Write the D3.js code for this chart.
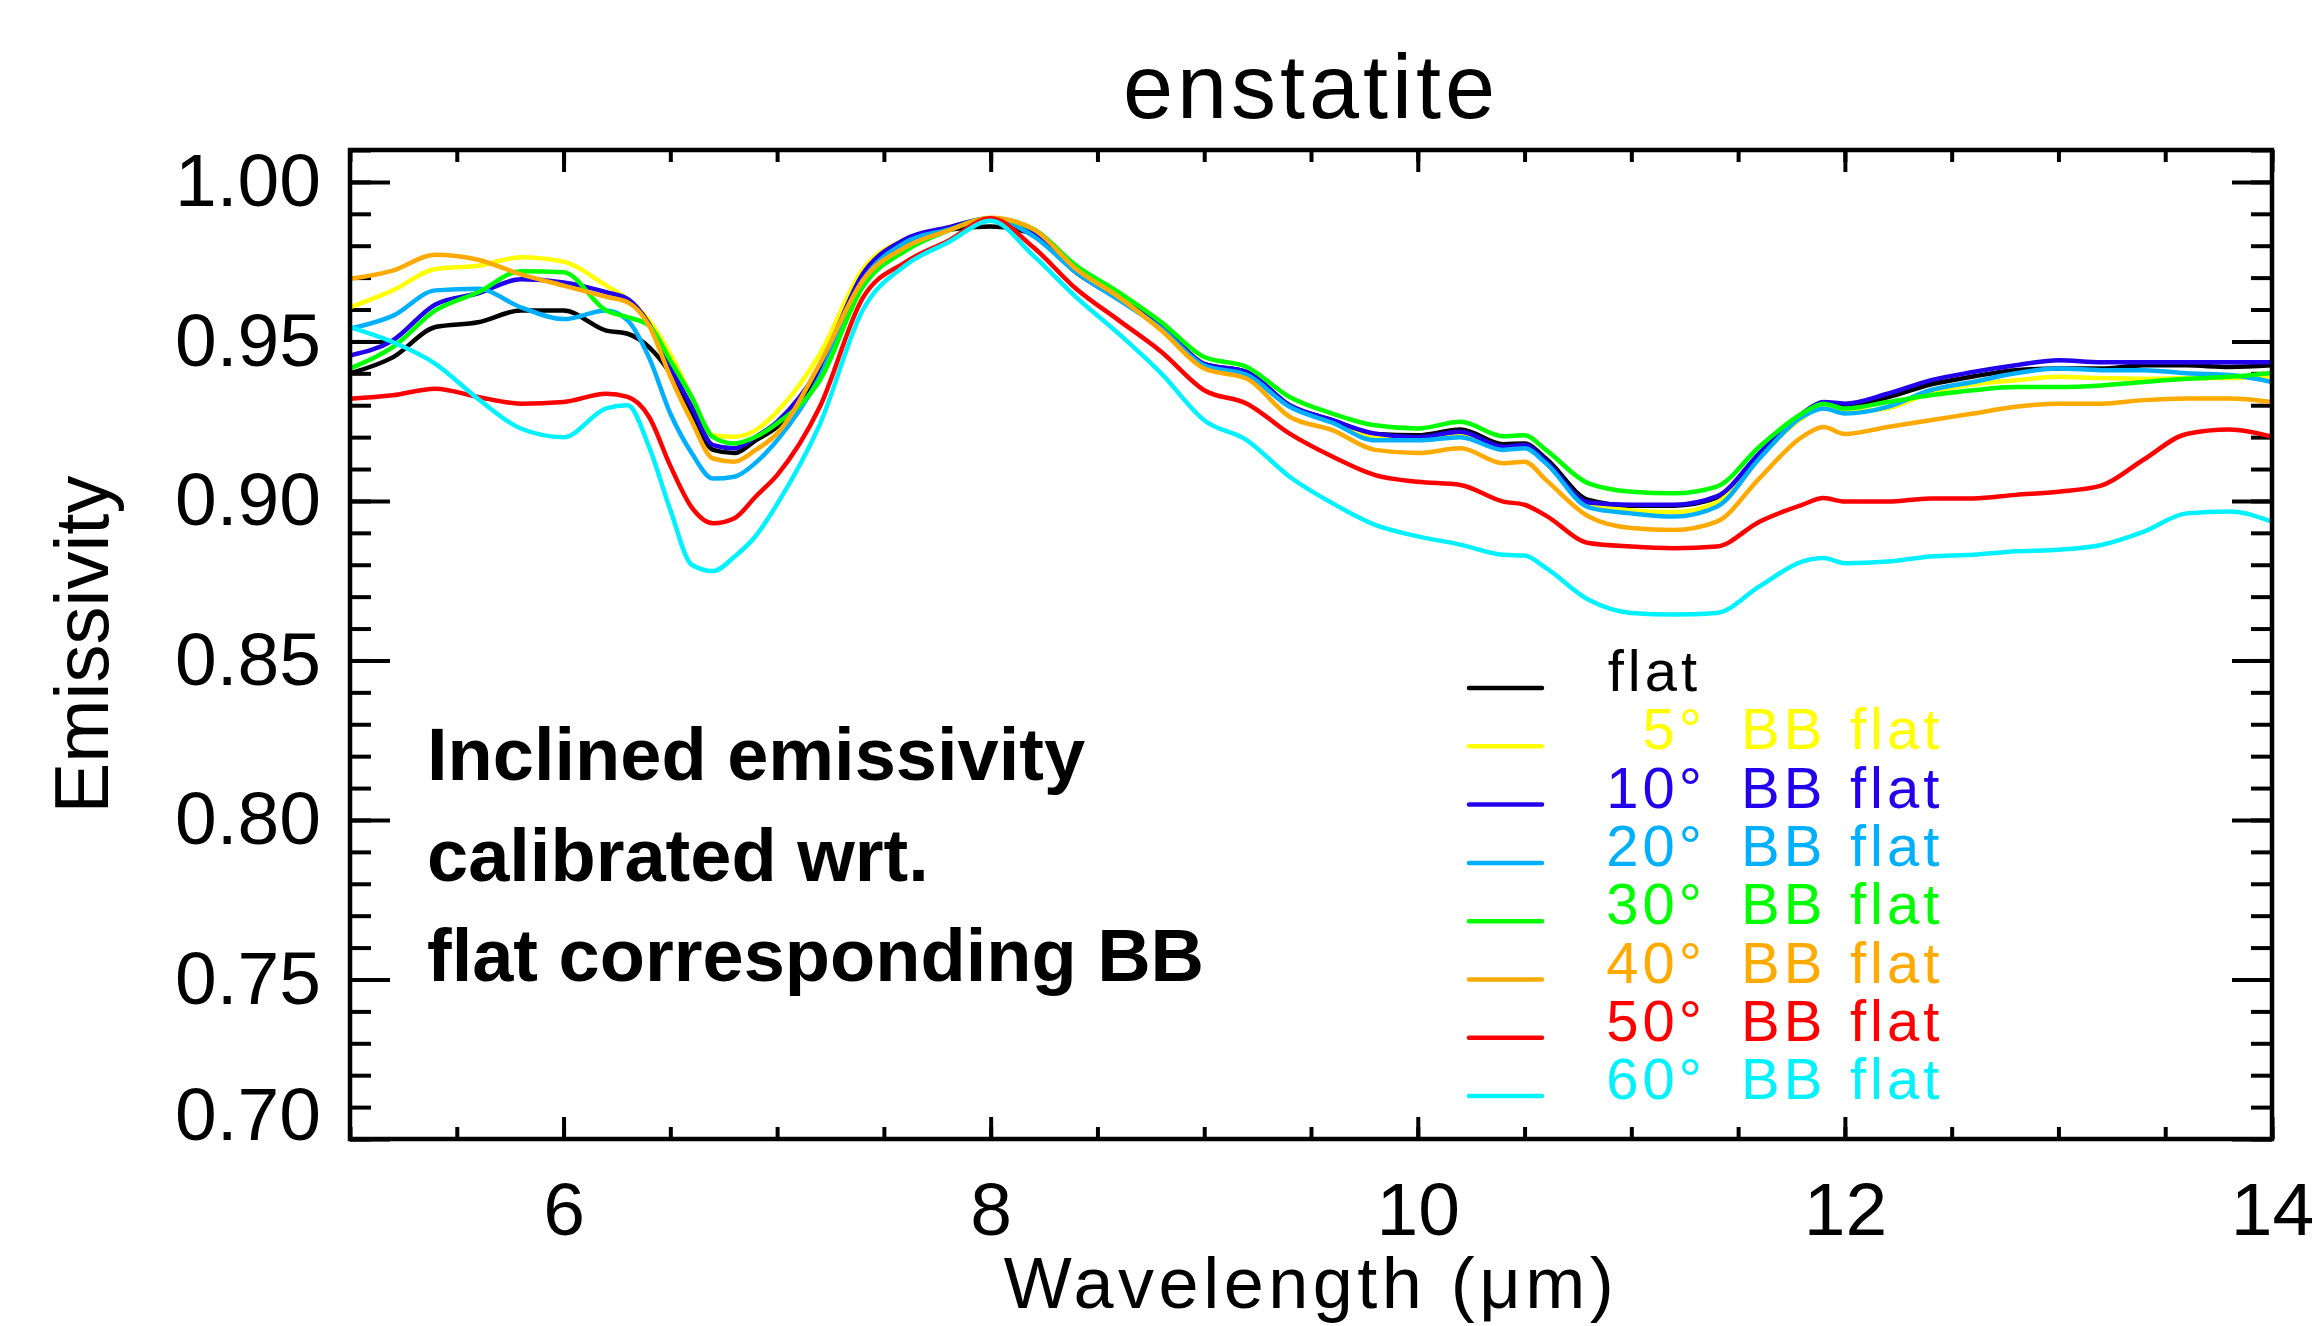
<!DOCTYPE html>
<html><head><meta charset="utf-8">
<script src="https://cdn.jsdelivr.net/npm/d3@7"></script>
<style>
html,body{margin:0;padding:0;background:#fff;}
svg{display:block;}
</style></head><body>
<svg id="chart" width="2313" height="1326"></svg>
<script>
// ---------- data ----------
const wavelength = [5.0, 5.2, 5.4, 5.6, 5.8, 6.0, 6.2, 6.3, 6.4, 6.5, 6.6, 6.7, 6.8, 6.9, 7.0, 7.2, 7.4, 7.6, 7.8, 8.0,
  8.2, 8.4, 8.6, 8.8, 9.0, 9.2, 9.4, 9.6, 9.8, 10.0, 10.2, 10.4, 10.5, 10.6, 10.8, 11.0, 11.2, 11.4, 11.6, 11.8,
  11.9, 12.0, 12.2, 12.4, 12.6, 12.8, 13.0, 13.2, 13.4, 13.6, 13.8, 14.0];

const flat = [0.940, 0.945, 0.9545, 0.956, 0.9597, 0.9597,
  0.9534, 0.9524, 0.9482, 0.940, 0.928, 0.916, 0.915, 0.919, 0.9232,
  0.941, 0.968, 0.981, 0.985, 0.986,
  0.9836, 0.9717, 0.9634, 0.955, 0.943,
  0.9404, 0.930, 0.9253, 0.921, 0.9206,
  0.9224, 0.9178, 0.918, 0.9133, 0.9003,
  0.8985, 0.8985, 0.901, 0.9145, 0.927,
  0.9305, 0.930, 0.9325, 0.9365, 0.939,
  0.941, 0.9415, 0.9415, 0.9425, 0.9425,
  0.942, 0.9425];

const bb5 = [0.9607, 0.966, 0.9727, 0.9737, 0.9764, 0.9750,
  0.9675, 0.9633, 0.9566, 0.946, 0.9326, 0.9206, 0.9201, 0.9222, 0.9280,
  0.946, 0.9725, 0.982, 0.9857, 0.9886,
  0.984, 0.972, 0.9637, 0.955, 0.943,
  0.940, 0.930, 0.925, 0.920, 0.9195,
  0.921, 0.9165, 0.917, 0.912, 0.899,
  0.897, 0.8965, 0.8995, 0.914, 0.926,
  0.9295, 0.928, 0.929, 0.934, 0.9365,
  0.9378, 0.9389, 0.9385, 0.9383, 0.9385,
  0.9385, 0.939];

const bb10 = [0.9456, 0.9503, 0.9616, 0.9651, 0.9695, 0.9685,
  0.9654, 0.9633, 0.9555, 0.942, 0.9295, 0.9175, 0.9165, 0.9201, 0.9248,
  0.942, 0.971, 0.982, 0.9857, 0.9886,
  0.984, 0.9717, 0.9634, 0.955, 0.943,
  0.9404, 0.930, 0.9253, 0.9211, 0.920,
  0.9217, 0.917, 0.9175, 0.9125, 0.8995,
  0.8988, 0.8988, 0.9014, 0.9149, 0.9274,
  0.931, 0.9305, 0.9336, 0.9378, 0.9404,
  0.9425, 0.9441, 0.9435, 0.9435, 0.9435,
  0.9435, 0.9435];

const bb20 = [0.954, 0.958, 0.966, 0.9665, 0.9607, 0.957,
  0.9597, 0.9566, 0.945, 0.9274, 0.915, 0.907, 0.9076, 0.912, 0.919,
  0.939, 0.969, 0.981, 0.985, 0.9886,
  0.983, 0.9717, 0.963, 0.954, 0.9425,
  0.9395, 0.9295, 0.9245, 0.919, 0.919,
  0.920, 0.916, 0.9165, 0.9118, 0.898,
  0.8961, 0.8951, 0.8982, 0.9133, 0.9264,
  0.929, 0.9274, 0.9295, 0.9347, 0.9373,
  0.940, 0.9415, 0.941, 0.941, 0.940,
  0.9395, 0.9373];

const bb30 = [0.9415, 0.9482, 0.9597, 0.9654, 0.972, 0.9717,
  0.9597, 0.9576, 0.955, 0.944, 0.9326, 0.920, 0.918, 0.9201, 0.9243,
  0.9378, 0.967, 0.9784, 0.9847, 0.9886,
  0.9852, 0.9738, 0.9654, 0.956, 0.9451,
  0.942, 0.9326, 0.9274, 0.9237, 0.9227,
  0.9248, 0.9203, 0.9206, 0.916, 0.9055,
  0.9029, 0.9024, 0.9045, 0.917, 0.9274,
  0.9305, 0.929, 0.931, 0.9331, 0.9347,
  0.9357, 0.9357, 0.9362, 0.9373, 0.9383,
  0.9389, 0.9401];

const bb40 = [0.9696, 0.9722, 0.9772, 0.9756, 0.971, 0.9675,
  0.964, 0.9623, 0.955, 0.939, 0.925, 0.9133, 0.9123, 0.916, 0.9211,
  0.943, 0.969, 0.9795, 0.9847, 0.9888,
  0.9852, 0.9727, 0.9639, 0.9534, 0.9415,
  0.9383, 0.9264, 0.9222, 0.916, 0.915,
  0.9165, 0.9118, 0.9123, 0.9066, 0.8951,
  0.8915, 0.8909, 0.8935, 0.9071, 0.9201,
  0.9232, 0.921, 0.9232, 0.9253, 0.9274,
  0.9295, 0.9305, 0.9305, 0.9316, 0.9321,
  0.9321, 0.931];

const bb50 = [0.932, 0.9331, 0.9352, 0.9326, 0.9305, 0.931,
  0.9336, 0.9326, 0.9264, 0.911, 0.898, 0.893, 0.8946, 0.9014, 0.9081,
  0.9295, 0.9635, 0.9748, 0.9815, 0.9886,
  0.9795, 0.9665, 0.9566, 0.9467, 0.9347,
  0.9305, 0.9211, 0.9139, 0.9081, 0.906,
  0.905, 0.8998, 0.8988, 0.8954, 0.8868,
  0.8857, 0.8852, 0.8857, 0.8935, 0.8988,
  0.9009, 0.8998, 0.8998, 0.9008, 0.9008,
  0.9019, 0.9029, 0.9048, 0.913, 0.921,
  0.9224, 0.9201];

const bb60 = [0.9545, 0.9498, 0.943, 0.932, 0.9227, 0.920,
  0.929, 0.930, 0.917, 0.8972, 0.880, 0.878, 0.8825, 0.889, 0.899,
  0.924, 0.9597, 0.9738, 0.981, 0.9878,
  0.9769, 0.9639, 0.9524, 0.9399, 0.9253,
  0.919, 0.9076, 0.8993, 0.8925, 0.8889,
  0.8863, 0.8831, 0.8829, 0.879, 0.869,
  0.8649, 0.8644, 0.8649, 0.8732, 0.881,
  0.8821, 0.8805, 0.881, 0.8826, 0.8831,
  0.8842, 0.8847, 0.8862, 0.8904, 0.8961,
  0.8967, 0.8935];

const seriesNames = ["flat", "5° BB flat", "10° BB flat", "20° BB flat", "30° BB flat", "40° BB flat", "50° BB flat", "60° BB flat"];
const seriesValues = [flat, bb5, bb10, bb20, bb30, bb40, bb50, bb60];
const seriesColors = ["#000000", "#FFFF00", "#2200EE", "#00B0FF", "#00FF00", "#FFAA00", "#FF0000", "#00F2FF"];

const xTicks = [6, 8, 10, 12, 14];
const yTicks = [0.70, 0.75, 0.80, 0.85, 0.90, 0.95, 1.00];
const titleText = "enstatite";
const xTitle = "Wavelength (\u03BCm)";
const yTitle = "Emissivity";
const noteLines = ["Inclined emissivity", "calibrated wrt.", "flat corresponding BB"];

// ---------- layout ----------
const W = 2313, H = 1326;
const L = 350, R = 2272, T = 150, B = 1139;
const FONT = "'Liberation Sans', Arial, sans-serif";

const svg = d3.select("#chart");
svg.append("rect").attr("width", W).attr("height", H).attr("fill", "#fff");

const x = d3.scaleLinear().domain([5, 14]).range([L, R]);
const y = d3.scaleLinear().domain([0.70, 1.01]).range([B, T]);

const xMinor = d3.range(10, 29).map(d => d / 2);
const yMinor = d3.range(70, 102).map(d => d / 100);

function styleAxis(g) {
  g.select(".domain").remove();
  g.selectAll(".tick line").attr("stroke", "#000").attr("stroke-width", 4);
  g.selectAll(".tick text").attr("fill", "#000").style("font-family", FONT).style("font-size", "75px");
}

// minor ticks
svg.append("g").attr("transform", `translate(0,${B})`)
  .call(d3.axisBottom(x).tickValues(xMinor).tickSize(-12).tickFormat("")).call(styleAxis);
svg.append("g").attr("transform", `translate(0,${T})`)
  .call(d3.axisTop(x).tickValues(xMinor).tickSize(-12).tickFormat("")).call(styleAxis);
svg.append("g").attr("transform", `translate(${L},0)`)
  .call(d3.axisLeft(y).tickValues(yMinor).tickSize(-21).tickFormat("")).call(styleAxis);
svg.append("g").attr("transform", `translate(${R},0)`)
  .call(d3.axisRight(y).tickValues(yMinor).tickSize(-21).tickFormat("")).call(styleAxis);

// major ticks
svg.append("g").attr("transform", `translate(0,${B})`)
  .call(d3.axisBottom(x).tickValues(xTicks).tickSize(-22).tickPadding(43).tickFormat(d3.format("d"))).call(styleAxis);
svg.append("g").attr("transform", `translate(0,${T})`)
  .call(d3.axisTop(x).tickValues(xTicks).tickSize(-22).tickFormat("")).call(styleAxis);
const yAxisG = svg.append("g").attr("transform", `translate(${L},0)`)
  .call(d3.axisLeft(y).tickValues(yTicks).tickSize(-40).tickPadding(29).tickFormat(d3.format(".2f"))).call(styleAxis);
yAxisG.selectAll(".tick text").filter(d => Math.abs(d - 0.70) < 1e-9).attr("y", -24);
svg.append("g").attr("transform", `translate(${R},0)`)
  .call(d3.axisRight(y).tickValues(yTicks).tickSize(-40).tickFormat("")).call(styleAxis);

// data lines
svg.append("clipPath").attr("id", "plotclip").append("rect")
  .attr("x", L).attr("y", T).attr("width", R - L).attr("height", B - T);
const line = d3.line().x(d => x(d[0])).y(d => y(d[1])).curve(d3.curveMonotoneX);
const lines = svg.append("g").attr("clip-path", "url(#plotclip)");
seriesValues.forEach((vals, i) => {
  lines.append("path")
    .datum(wavelength.map((w, k) => [w, vals[k]]))
    .attr("d", line)
    .attr("fill", "none")
    .attr("stroke", seriesColors[i])
    .attr("stroke-width", 4.5)
    .attr("stroke-linejoin", "round")
    .attr("stroke-linecap", "round");
});

// frame
svg.append("rect").attr("x", L).attr("y", T).attr("width", R - L).attr("height", B - T)
  .attr("fill", "none").attr("stroke", "#000").attr("stroke-width", 4.5);

// titles
svg.append("text").attr("x", (L + R) / 2).attr("y", 118).attr("text-anchor", "middle")
  .style("font-family", FONT).style("font-size", "90px").style("letter-spacing", "4px")
  .text(titleText);
svg.append("text").attr("x", (L + R) / 2).attr("y", 1308).attr("text-anchor", "middle")
  .style("font-family", FONT).style("font-size", "72px").style("letter-spacing", "4.5px")
  .text(xTitle);
svg.append("text").attr("transform", `translate(108,${(T + B) / 2}) rotate(-90)`).attr("text-anchor", "middle")
  .style("font-family", FONT).style("font-size", "76px")
  .text(yTitle);

// note text
noteLines.forEach((s, i) => {
  svg.append("text").attr("x", 427).attr("y", 780 + i * 100.5)
    .style("font-family", FONT).style("font-size", "74px").style("font-weight", "bold")
    .text(s);
});

// legend
const leg = svg.append("g");
seriesNames.forEach((name, i) => {
  const ly = 688 + i * 58.3;
  leg.append("line").attr("x1", 1469).attr("x2", 1542).attr("y1", ly).attr("y2", ly)
    .attr("stroke", seriesColors[i]).attr("stroke-width", 4.5).attr("stroke-linecap", "round");
  const parts = name.split(" ");
  const t = (txt, xx, anchor) => leg.append("text").attr("x", xx).attr("y", ly + 3)
    .attr("text-anchor", anchor).attr("fill", seriesColors[i])
    .style("font-family", FONT).style("font-size", "58px").style("letter-spacing", "4px").text(txt);
  if (parts.length === 1) {
    t(parts[0], 1701, "end");
  } else {
    t(parts[0], 1706, "end");
    t(parts[1], 1741, "start");
    t(parts[2], 1850, "start");
  }
});
</script>
</body></html>
